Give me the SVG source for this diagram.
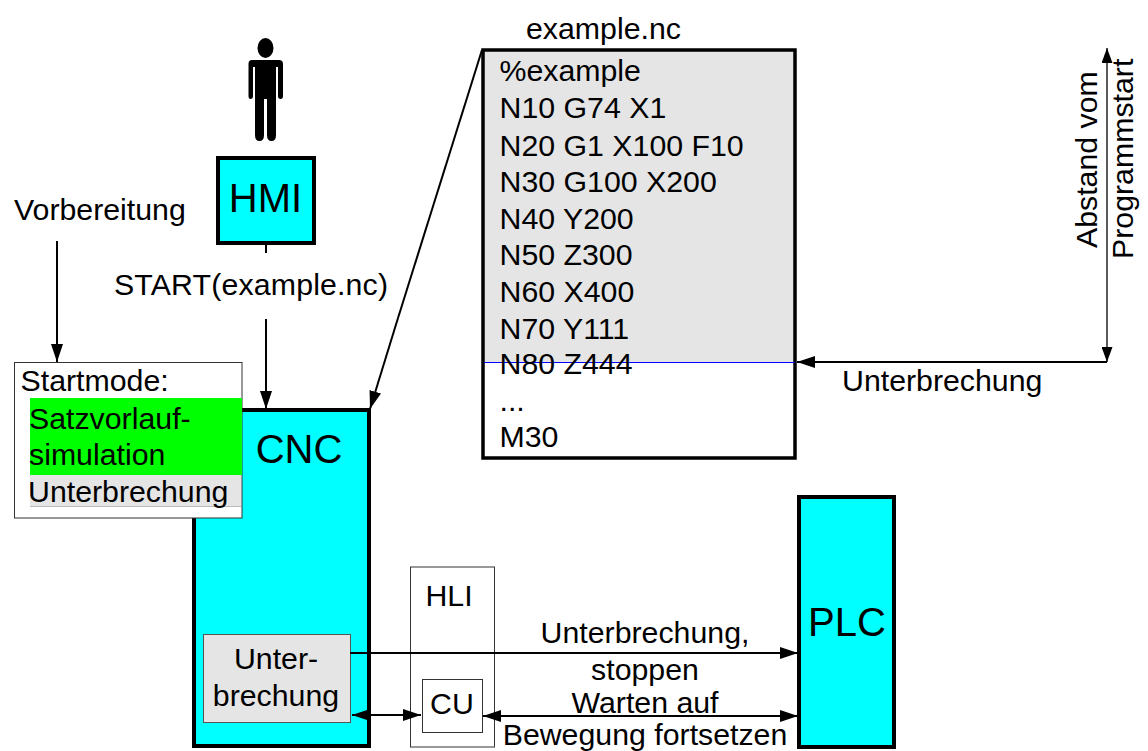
<svg xmlns="http://www.w3.org/2000/svg" width="1148" height="751" viewBox="0 0 1148 751">
<style>
text{font-family:"Liberation Sans",Arial,sans-serif;font-size:30.300px;fill:#000}
.big{font-size:40px}
.mid{text-anchor:middle}
.box{fill:#0ff;stroke:#000;stroke-width:4}
.thin{fill:#fff;stroke:#333;stroke-width:1}
.c{fill:none;stroke:#000;stroke-width:2}
</style>
<defs>
<marker id="a" markerUnits="userSpaceOnUse" markerWidth="18" markerHeight="12" refX="18" refY="6" orient="auto-start-reverse" viewBox="0 0 18 12"><path d="M0 0L18 6L0 12Z" fill="#000"/></marker>
<marker id="s" markerUnits="userSpaceOnUse" markerWidth="15" markerHeight="11" refX="15" refY="5.500" orient="auto-start-reverse" viewBox="0 0 15 11"><path d="M0 0L15 5.500L0 11Z" fill="#000"/></marker>
</defs>
<rect width="1148" height="751" fill="#fff"/>
<g id="cnc"><rect class="box" x="194" y="410" width="175" height="336"/><text class="big mid" x="299" y="463">CNC</text></g>
<g id="file"><rect x="483" y="50" width="312" height="312" fill="#e5e5e5"/><rect x="483" y="50" width="312" height="408" fill="none" stroke="#000" stroke-width="3.500"/>
<line x1="484" y1="362.500" x2="795" y2="362.500" stroke="#00f" stroke-width="1"/>
<text x="499.500" y="81">%example</text><text x="499.500" y="118">N10 G74 X1</text><text x="499.500" y="155.500">N20 G1 X100 F10</text><text x="499.500" y="192">N30 G100 X200</text><text x="499.500" y="229">N40 Y200</text><text x="499.500" y="265">N50 Z300</text><text x="499.500" y="302">N60 X400</text><text x="499.500" y="339">N70 Y111</text><text x="499.500" y="374">N80 Z444</text><text x="499.500" y="411">...</text><text x="499.500" y="447">M30</text></g>
<text x="526" y="39">example.nc</text>
<g id="person"><ellipse cx="265.500" cy="48" rx="8" ry="10"/><path d="M252 60H279Q283 60 283 64V96Q283 99 280.500 99Q278 99 278 96V67H276V135Q276 141 271.500 141Q267 141 267 135V99H264V135Q264 141 259.500 141Q255 141 255 135V67H253V96Q253 99 250.500 99Q248.500 99 248.500 96V64Q248.500 60 252 60Z"/></g>
<g id="hmi"><rect class="box" x="218" y="158" width="96" height="85"/><text class="big mid" x="265.500" y="212">HMI</text></g>
<g id="startmode"><rect class="thin" x="14.500" y="362.500" width="227.500" height="155.500"/><rect x="30" y="398" width="212" height="77" fill="#0f0"/><rect x="30" y="475" width="211" height="31" fill="#e5e5e5"/><line x1="30" y1="506.500" x2="241" y2="506.500" stroke="#bbb"/>
<text x="20.500" y="391">Startmode:</text><text x="29" y="429">Satzvorlauf-</text><text x="29" y="465">simulation</text><text x="28" y="502">Unterbrechung</text></g>
<g id="unter"><rect x="203.500" y="634.500" width="147" height="88" fill="#e5e5e5" stroke="#555" stroke-width="1"/><text class="mid" x="276" y="669">Unter-</text><text class="mid" x="276" y="706">brechung</text></g>
<g id="hli"><rect class="thin" x="410.500" y="567" width="84" height="180"/><text class="mid" x="449" y="606">HLI</text></g>
<g id="cu"><rect class="thin" x="422.500" y="679.500" width="60" height="53"/><text class="mid" x="452" y="714">CU</text></g>
<g id="plc"><rect class="box" x="799" y="497" width="95" height="250"/><text class="big mid" x="847" y="636">PLC</text></g>
<g id="connectors">
<path class="c" d="M57 241V362" marker-end="url(#a)"/>
<path class="c" d="M266 243V253"/><path class="c" d="M266 319V409" marker-end="url(#a)"/>
<path class="c" d="M482 50L398 318"/><path class="c" d="M398 318L370 409" marker-end="url(#a)"/>
<path class="c" d="M1107 362H797" marker-end="url(#a)"/>
<path d="M1107 48V362" fill="none" stroke="#000" stroke-width="1.300" marker-start="url(#s)" marker-end="url(#s)"/>
<path class="c" d="M350 653H798" marker-end="url(#a)"/>
<path class="c" d="M483 716H798" marker-start="url(#a)" marker-end="url(#a)"/>
<path class="c" d="M352 715H421" marker-start="url(#a)" marker-end="url(#a)"/>
</g>
<text x="14" y="220">Vorbereitung</text>
<text x="114" y="295" textLength="274">START(example.nc)</text>
<text x="842" y="391">Unterbrechung</text>
<text class="mid" x="645" y="643">Unterbrechung,</text>
<text class="mid" x="645" y="680">stoppen</text>
<text class="mid" x="645" y="713">Warten auf</text>
<text class="mid" x="645" y="745">Bewegung fortsetzen</text>
<text transform="translate(1097 248) rotate(-90)">Abstand vom</text>
<text transform="translate(1133 259) rotate(-90)">Programmstart</text>
</svg>
